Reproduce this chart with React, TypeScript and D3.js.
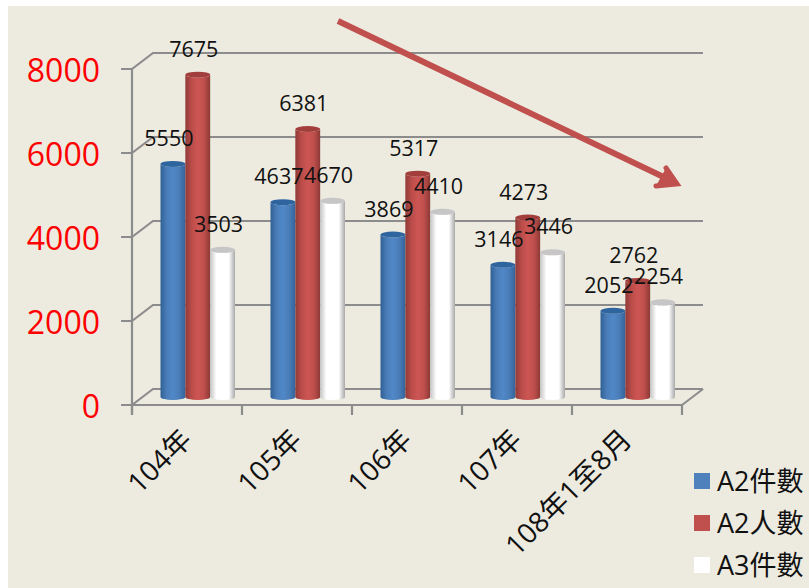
import * as d3 from "d3";

const categories = ["104年", "105年", "106年", "107年", "108年1至8月"];
const seriesNames = ["A2件數", "A2人數", "A3件數"];
const a2Cases = [5550, 4637, 3869, 3146, 2052];
const a2People = [7675, 6381, 5317, 4273, 2762];
const a3Cases = [3503, 4670, 4410, 3446, 2254];
const seriesValues = [a2Cases, a2People, a3Cases];
const yTicks = [0, 2000, 4000, 6000, 8000];

const W = 809;
const H = 588;
const FONT = "'Open Sans', 'Noto Sans CJK TC', sans-serif";

// 3D box depth
const depthX = 21;
const depthY = 16;

const x0 = d3.scaleBand<string>().domain(categories).range([132, 682]);
const x1 = d3.scaleBand<string>().domain(seriesNames).range([0, 74.5]);
const yFront = d3.scaleLinear().domain([0, 8000]).range([405, 69]);
const barBase = 397;
const barH = d3.scaleLinear().domain([0, 8000]).range([0, 336]);

const colors = ["blue", "red", "white"];
const stops: Record<string, [string, string, string, string, string]> = {
  blue: ["#2f5f94", "#4a7db8", "#5088c8", "#4a7db8", "#34639a"],
  red: ["#8f3a38", "#bb4c49", "#cd5654", "#bf4f4c", "#8c3936"],
  white: ["#c4c4c4", "#ffffff", "#ffffff", "#ffffff", "#a9a9a9"],
};
const capColor: Record<string, string> = { blue: "#2f659e", red: "#a23f3d", white: "#c6c6c6" };

const legendColors = ["#4f81bd", "#c0504d", "#ffffff"];

const cylinder = (x: number, w: number, top: number, bottom: number) => {
  const rx = w / 2;
  const ry = 3;
  return `M${x},${top} L${x},${bottom} A${rx},${ry} 0 0 0 ${x + w},${bottom} L${x + w},${top} A${rx},${ry} 0 0 1 ${x},${top} Z`;
};

export default function App() {
  return (
    <svg
      width={W}
      height={H}
      style={{ position: "absolute", left: 0, top: 0, background: "#fff" }}
      fontFamily={FONT}
    >
      <defs>
        {colors.map((c) => (
          <linearGradient key={c} id={`grad-${c}`} x1="0" x2="1" y1="0" y2="0">
            {[0, 0.25, 0.5, 0.75, 1].map((o, i) => (
              <stop key={o} offset={o} stopColor={stops[c][i]} />
            ))}
          </linearGradient>
        ))}
      </defs>
      <rect x={8} y={6} width={W - 8} height={H - 6} fill="#edebe0" />

      {/* walls */}
      {yTicks.map((t) => (
        <polyline
          key={t}
          stroke="#8c8c8c"
          strokeWidth={2.2}
          fill="none"
          points={`${121},${yFront(t)} ${132},${yFront(t)} ${132 + depthX},${yFront(t) - depthY} ${682 + depthX},${yFront(t) - depthY}`}
        />
      ))}
      <g stroke="#8c8c8c" strokeWidth={2.2} fill="none">
        <line x1={132} x2={132} y1={yFront(8000)} y2={415} />
        <line x1={132} x2={682} y1={yFront(0)} y2={yFront(0)} />
        <line x1={682} x2={682 + depthX} y1={yFront(0)} y2={yFront(0) - depthY} />
        {[...categories.map((c) => x0(c) as number), 682].map((x) => (
          <line key={x} x1={x} x2={x} y1={yFront(0)} y2={415} />
        ))}
      </g>

      {/* cylinders */}
      {categories.map((c, i) => (
        <g key={c} transform={`translate(${(x0(c) as number) + 28.5},0)`}>
          {seriesNames.map((s, j) => {
            const x = x1(s) as number;
            const w = x1.bandwidth();
            const top = barBase - barH(seriesValues[j][i]);
            return (
              <g key={s}>
                <path d={cylinder(x, w, top, barBase)} fill={`url(#grad-${colors[j]})`} />
                <ellipse cx={x + w / 2} cy={top} rx={w / 2} ry={3} fill={capColor[colors[j]]} />
              </g>
            );
          })}
        </g>
      ))}

      {/* value labels */}
      {categories.map((c, i) => (
        <g key={c} transform={`translate(${(x0(c) as number) + 28.5},0)`} fontSize={21.5} fill="#111" textAnchor="middle">
          {seriesNames.map((s, j) => (
            <text
              key={s}
              x={(x1(s) as number) + x1.bandwidth() / 2 - 4}
              y={barBase - barH(seriesValues[j][i]) - 18}
            >
              {seriesValues[j][i]}
            </text>
          ))}
        </g>
      ))}

      {/* y axis */}
      {yTicks.map((t) => (
        <text key={t} x={100} y={yFront(t) + 13} textAnchor="end" fontSize={32} fill="#ff0000">
          {t}
        </text>
      ))}

      {/* x axis */}
      {categories.map((c) => {
        const cx = (x0(c) as number) + x0.bandwidth() / 2 + 1;
        return (
          <text
            key={c}
            transform={`translate(${cx},436) rotate(-45)`}
            textAnchor="end"
            dominantBaseline="middle"
            fontSize={28}
            fill="#111"
          >
            {c}
          </text>
        );
      })}

      {/* trend arrow */}
      <line x1={338} y1={21} x2={674} y2={182} stroke="#c0504d" strokeWidth={6} />
      <path d="M666,168 L677,184 L656,186" fill="#c0504d" stroke="#c0504d" strokeWidth={5} strokeLinecap="round" strokeLinejoin="miter" />

      {/* legend */}
      {seriesNames.map((s, i) => (
        <g key={s} transform={`translate(694,${481 + i * 42})`}>
          <rect x={0} y={-8} width={16} height={16} fill={legendColors[i]} />
          <text x={23} y={10} fontSize={27} fill="#111">
            {s}
          </text>
        </g>
      ))}
    </svg>
  );
}
